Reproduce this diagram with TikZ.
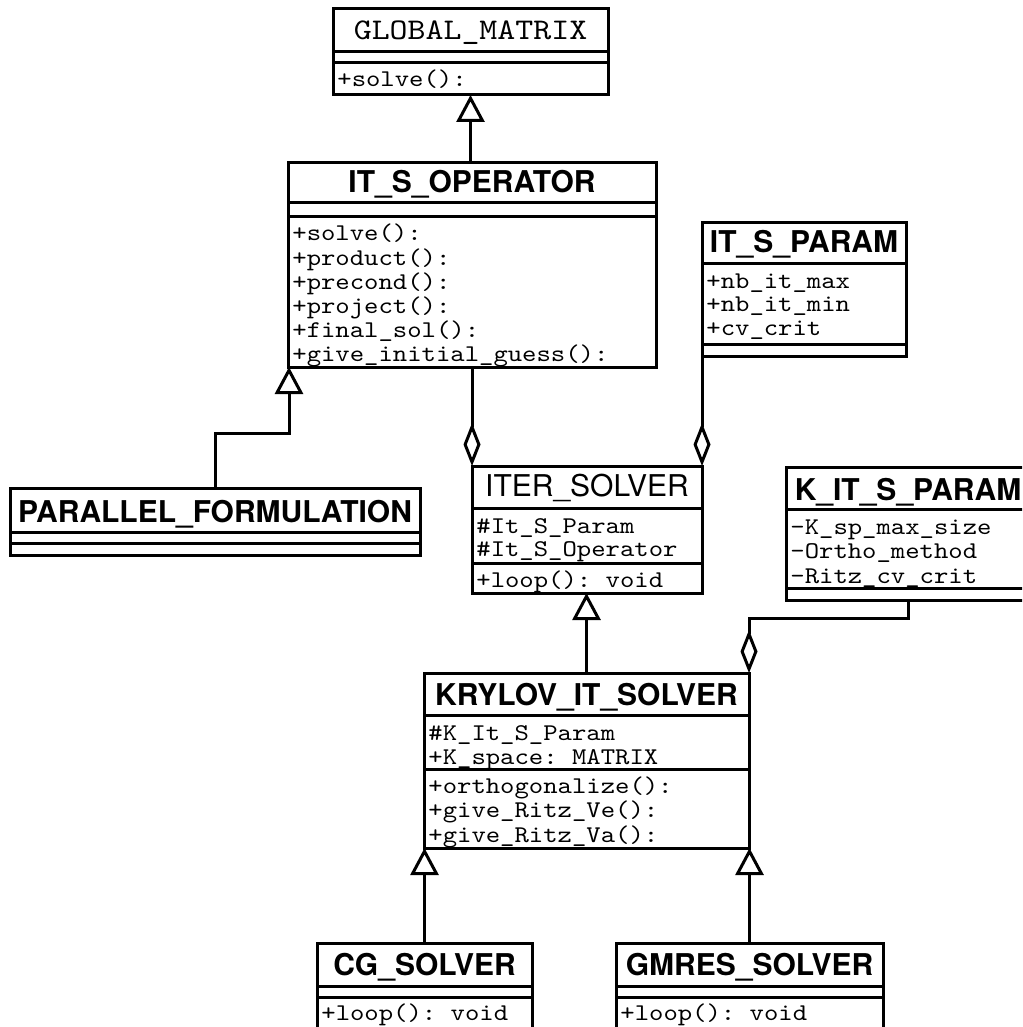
\documentclass[tikz,border=0pt]{standalone}
\usepackage{fontspec}
\setsansfont{TeX Gyre Heros}
\setmonofont{lmmono10-regular}[Extension=.otf, FakeStretch=1.14]
\usetikzlibrary{arrows.meta,calc}
\begin{document}
\begin{tikzpicture}[x=0.5pt,y=-0.5pt,
  cls/.style={draw, line width=1.5pt, inner sep=0pt, outer sep=0pt, anchor=north west, fill=white},
  sep/.style={line width=1.5pt},
  ttl/.style={anchor=base, inner sep=0pt, font=\sffamily\bfseries\fontsize{15pt}{18pt}\selectfont},
  ttlr/.style={anchor=base, inner sep=0pt, font=\sffamily\fontsize{15pt}{18pt}\selectfont},
  ttlm/.style={anchor=base, inner sep=0pt, font=\ttfamily\fontsize{15pt}{18pt}\selectfont},
  mem/.style={anchor=base west, inner sep=0pt, font=\ttfamily\fontsize{12pt}{12pt}\selectfont},
  gen/.style={line width=1.5pt, -{Triangle[open, length=13.5pt, width=14pt]}},
  aggr/.style={line width=1.5pt, -{Diamond[open, length=21.5pt, width=8.5pt]}},
]
\useasboundingbox (0,0) rectangle (1022,1027);
\fill[white] (0,0) rectangle (1022,1027);
\clip (0,0) rectangle (1022,1027);

% ---- GLOBAL_MATRIX
\node[cls, minimum width=137.5pt, minimum height=43pt] (gm) at (333,9) {};
\draw[sep] (gm.west |- 0,52) -- (gm.east |- 0,52);
\draw[sep] (gm.west |- 0,63) -- (gm.east |- 0,63);
\node[ttlm] (gm-t) at (470.5,40) {GLOBAL\_MATRIX};
\node[mem] (gm-o1) at (337,87) {+solve():};

% ---- IT_S_OPERATOR
\node[cls, minimum width=184pt, minimum height=102pt] (itso) at (288,163) {};
\draw[sep] (itso.west |- 0,203) -- (itso.east |- 0,203);
\draw[sep] (itso.west |- 0,217) -- (itso.east |- 0,217);
\node[ttl] (itso-t) at (472,193) {IT\_S\_OPERATOR};
\node[mem] (itso-o1) at (292,241) {+solve():};
\node[mem] (itso-o2) at (292,265) {+product():};
\node[mem] (itso-o3) at (292,289) {+precond():};
\node[mem] (itso-o4) at (292,313) {+project():};
\node[mem] (itso-o5) at (292,337) {+final\_sol():};
\node[mem] (itso-o6) at (292,361) {+give\_initial\_guess():};

% ---- IT_S_PARAM
\node[cls, minimum width=102pt, minimum height=66.5pt] (itsp) at (702,223) {};
\draw[sep] (itsp.west |- 0,263) -- (itsp.east |- 0,263);
\draw[sep] (itsp.west |- 0,344) -- (itsp.east |- 0,344);
\node[ttl] (itsp-t) at (804,253) {IT\_S\_PARAM};
\node[mem] (itsp-a1) at (706,288) {+nb\_it\_max};
\node[mem] (itsp-a2) at (706,311) {+nb\_it\_min};
\node[mem] (itsp-a3) at (706,335) {+cv\_crit};

% ---- PARALLEL_FORMULATION
\node[cls, minimum width=205pt, minimum height=33.5pt] (pf) at (10,488) {};
\draw[sep] (pf.west |- 0,532) -- (pf.east |- 0,532);
\draw[sep] (pf.west |- 0,543) -- (pf.east |- 0,543);
\node[ttl] (pf-t) at (215,522) {PARALLEL\_FORMULATION};

% ---- ITER_SOLVER
\node[cls, minimum width=115pt, minimum height=63.5pt] (iter) at (472,466) {};
\draw[sep] (iter.west |- 0,508) -- (iter.east |- 0,508);
\draw[sep] (iter.west |- 0,563) -- (iter.east |- 0,563);
\node[ttlr] (iter-t) at (587,496) {ITER\_SOLVER};
\node[mem] (iter-a1) at (476,533) {\#It\_S\_Param};
\node[mem] (iter-a2) at (476,556) {\#It\_S\_Operator};
\node[mem] (iter-o1) at (476,587) {+loop(): void};

% ---- K_IT_S_PARAM
\node[cls, minimum width=122pt, minimum height=66.5pt] (kits) at (786,467) {};
\draw[sep] (kits.west |- 0,509) -- (kits.east |- 0,509);
\draw[sep] (kits.west |- 0,588) -- (kits.east |- 0,588);
\node[ttl] (kits-t) at (908,500) {K\_IT\_S\_PARAM};
\node[mem] (kits-a1) at (790,534) {-K\_sp\_max\_size};
\node[mem] (kits-a2) at (790,558) {-Ortho\_method};
\node[mem] (kits-a3) at (790,583) {-Ritz\_cv\_crit};

% ---- KRYLOV_IT_SOLVER
\node[cls, minimum width=162.5pt, minimum height=87.5pt] (kry) at (424,673) {};
\draw[sep] (kry.west |- 0,715) -- (kry.east |- 0,715);
\draw[sep] (kry.west |- 0,769) -- (kry.east |- 0,769);
\node[ttl] (kry-t) at (586.5,705) {KRYLOV\_IT\_SOLVER};
\node[mem] (kry-a1) at (428,740) {\#K\_It\_S\_Param};
\node[mem] (kry-a2) at (428,764) {+K\_space: MATRIX};
\node[mem] (kry-o1) at (428,793) {+orthogonalize():};
\node[mem] (kry-o2) at (428,817) {+give\_Ritz\_Ve():};
\node[mem] (kry-o3) at (428,842) {+give\_Ritz\_Va():};

% ---- CG_SOLVER
\node[cls, minimum width=107.5pt, minimum height=48.5pt] (cg) at (317,943) {};
\draw[sep] (cg.west |- 0,986) -- (cg.east |- 0,986);
\draw[sep] (cg.west |- 0,997) -- (cg.east |- 0,997);
\node[ttl] (cg-t) at (424.5,975) {CG\_SOLVER};
\node[mem] (cg-o1) at (321,1020) {+loop(): void};

% ---- GMRES_SOLVER
\node[cls, minimum width=133.5pt, minimum height=48.5pt] (gmr) at (616,943) {};
\draw[sep] (gmr.west |- 0,986) -- (gmr.east |- 0,986);
\draw[sep] (gmr.west |- 0,997) -- (gmr.east |- 0,997);
\node[ttl] (gmr-t) at (749.5,975) {GMRES\_SOLVER};
\node[mem] (gmr-o1) at (620,1020) {+loop(): void};

% ---- connectors
\draw[gen] (gm.south |- itso.north) -- (gm.south);
\draw[gen] (pf.north) |- ($(itso.south west)+(1,66)$) -- ([xshift=0.5pt]itso.south west);
\draw[aggr] (iter.north west |- itso.south) -- (iter.north west);
\draw[aggr] (itsp.south west) -- (iter.north east);
\draw[gen] (kry.north) -- (kry.north |- iter.south);
\draw[aggr] (kits.south) -- ++(0,18) -| (kry.north east);
\draw[gen] (cg.north) -- (cg.north |- kry.south);
\draw[gen] (gmr.north) -- (gmr.north |- kry.south);
\end{tikzpicture}
\end{document}
